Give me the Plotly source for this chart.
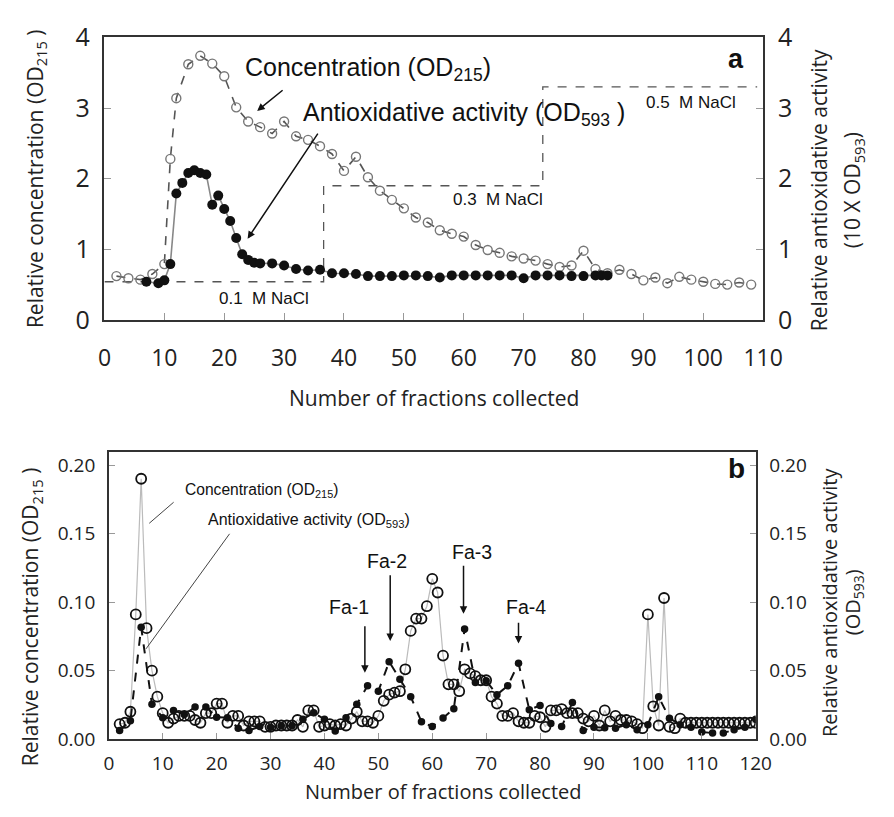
import plotly.graph_objects as go

# ---------------- Panel a data ----------------
conc_a_fraction = [2, 4, 6, 8, 10, 11, 12, 14, 16, 18, 20, 22, 24, 26, 28, 30, 32, 34, 36, 38, 40,
                   42, 44, 46, 48, 50, 52, 54, 56, 58, 60, 62, 64, 66, 68, 70, 72, 74, 76, 78, 80,
                   82, 84, 86, 88, 90, 92, 94, 96, 98, 100, 102, 104, 106, 108]
conc_a_value = [0.62, 0.59, 0.57, 0.65, 0.79, 2.28, 3.14, 3.62, 3.74, 3.63, 3.45, 3.01, 2.81, 2.73,
                2.64, 2.81, 2.60, 2.55, 2.46, 2.35, 2.11, 2.31, 2.02, 1.83, 1.70, 1.58, 1.45, 1.38,
                1.27, 1.22, 1.18, 1.06, 0.99, 0.95, 0.90, 0.87, 0.84, 0.79, 0.75, 0.77, 0.98, 0.72,
                0.66, 0.71, 0.65, 0.56, 0.60, 0.52, 0.61, 0.57, 0.54, 0.51, 0.50, 0.53, 0.50]

anti_a_fraction = [7, 9, 10, 11, 12, 13, 14, 15, 16, 17, 18, 19, 20, 21, 22, 23, 24, 25, 26, 28, 30,
                   32, 34, 36, 38, 40, 42, 44, 46, 48, 50, 52, 54, 56, 58, 60, 62, 64, 66, 68, 70,
                   72, 74, 76, 78, 80, 82, 83, 84]
anti_a_value = [0.54, 0.52, 0.56, 0.79, 1.79, 1.94, 2.08, 2.12, 2.08, 2.06, 1.63, 1.76, 1.57, 1.40,
                1.16, 0.93, 0.85, 0.81, 0.80, 0.80, 0.77, 0.72, 0.70, 0.71, 0.66, 0.66, 0.65, 0.62,
                0.62, 0.62, 0.63, 0.63, 0.62, 0.60, 0.63, 0.63, 0.63, 0.63, 0.63, 0.63, 0.59, 0.63,
                0.63, 0.63, 0.62, 0.62, 0.63, 0.63, 0.63]

nacl_step_fraction = [0, 36.6, 73.2, 109]
nacl_step_level = [0.54, 1.90, 3.30]
nacl_labels = ["0.1\u00a0\u00a0M NaCl", "0.3\u00a0\u00a0M NaCl", "0.5\u00a0\u00a0M NaCl"]

xticks_a = list(range(0, 111, 10))
yticks_a = [0, 1, 2, 3, 4]

# ---------------- Panel b data ----------------
conc_b_fraction = list(range(2, 121))
conc_b_value = [0.011, 0.012, 0.020, 0.091, 0.190, 0.081, 0.050, 0.031, 0.019, 0.012,   # 2-11
                0.015, 0.017, 0.017, 0.017, 0.014, 0.012, 0.019, 0.019, 0.026, 0.026,   # 12-21
                0.012, 0.017, 0.017, 0.010, 0.013, 0.013, 0.013, 0.009, 0.009, 0.010,   # 22-31
                0.010, 0.010, 0.010, 0.014, 0.009, 0.021, 0.021, 0.009, 0.010, 0.011,   # 32-41
                0.010, 0.011, 0.010, 0.015, 0.020, 0.013, 0.013, 0.012, 0.017, 0.028,   # 42-51
                0.0325, 0.034, 0.035, 0.051, 0.079, 0.088, 0.088, 0.097, 0.117, 0.107,  # 52-61
                0.061, 0.040, 0.040, 0.035, 0.051, 0.048, 0.046, 0.043, 0.043, 0.031,   # 62-71
                0.026, 0.017, 0.017, 0.019, 0.013, 0.012, 0.012, 0.017, 0.016, 0.009,   # 72-81
                0.021, 0.021, 0.022, 0.019, 0.019, 0.019, 0.015, 0.013, 0.017, 0.010,   # 82-91
                0.021, 0.013, 0.017, 0.014, 0.014, 0.013, 0.011, 0.008, 0.091, 0.024,   # 92-101
                0.010, 0.103, 0.009, 0.008, 0.015, 0.012, 0.012, 0.012, 0.012, 0.012,   # 102-111
                0.012, 0.012, 0.012, 0.012, 0.012, 0.012, 0.012, 0.012, 0.012]          # 112-120

anti_b_fraction = list(range(2, 121, 2))
anti_b_value = [0.0064, 0.0134, 0.0817, 0.0255, 0.0157, 0.0210, 0.0180, 0.0235, 0.0235, 0.0160,  # 2-20
                0.0157, 0.0080, 0.0064, 0.0092, 0.0087, 0.0098, 0.0098, 0.0145, 0.0192, 0.0146,  # 22-40
                0.0060, 0.0157, 0.0255, 0.0390, 0.0350, 0.0565, 0.0437, 0.0310, 0.0127, 0.0092,  # 42-60
                0.0155, 0.0222, 0.0803, 0.0414, 0.0426, 0.0325, 0.0390, 0.0554, 0.0215, 0.0246,  # 62-80
                0.0115, 0.0092, 0.0267, 0.0064, 0.0087, 0.0083, 0.0080, 0.0106, 0.0069, 0.0106,  # 82-100
                0.0309, 0.0153, 0.0106, 0.0087, 0.0052, 0.0045, 0.0045, 0.0069, 0.0087, 0.0146]  # 102-120

xticks_b = list(range(0, 121, 10))
yticks_b = [0.00, 0.05, 0.10, 0.15, 0.20]

fa_labels = ["Fa-1", "Fa-2", "Fa-3", "Fa-4"]

# ---------------- Geometry helpers ----------------
W, H = 894, 817


def px_x(p):
    return p / W


def px_y(p):
    return 1 - p / H


TICKFONT = "Open Sans"
ANNFONT = "Liberation Sans, Arial"
AXC = "#333333"

fig = go.Figure()

# Panel a traces
fig.add_trace(go.Scatter(x=nacl_step_fraction,
                         y=nacl_step_level + [nacl_step_level[-1]],
                         mode="lines", line=dict(color="#555555", width=1.3, dash="dash", shape="hv"),
                         xaxis="x", yaxis="y", hoverinfo="skip"))
fig.add_trace(go.Scatter(x=conc_a_fraction, y=conc_a_value, mode="lines+markers",
                         line=dict(color="#555555", width=1.6, dash="dash"),
                         marker=dict(symbol="circle-open", size=9, color="#777777", line=dict(width=1.4)),
                         xaxis="x", yaxis="y"))
fig.add_trace(go.Scatter(x=anti_a_fraction, y=anti_a_value, mode="lines+markers",
                         line=dict(color="#888888", width=1.6),
                         marker=dict(symbol="circle", size=10, color="#111111"),
                         xaxis="x", yaxis="y2"))

# Panel b traces
fig.add_trace(go.Scatter(x=conc_b_fraction, y=conc_b_value, mode="lines+markers",
                         line=dict(color="#bbbbbb", width=1.2),
                         marker=dict(symbol="circle-open", size=10, color="#111111", line=dict(width=1.8)),
                         xaxis="x2", yaxis="y3"))
fig.add_trace(go.Scatter(x=anti_b_fraction, y=anti_b_value, mode="lines+markers",
                         line=dict(color="#111111", width=2, dash="dash"),
                         marker=dict(symbol="circle", size=7.5, color="#111111"),
                         xaxis="x2", yaxis="y4"))

common_axis = dict(showline=True, linecolor=AXC, linewidth=1.5, ticks="inside",
                   tickcolor="#999999", tickwidth=1, showgrid=False, zeroline=False)

fig.update_layout(
    width=W, height=H, margin=dict(l=0, r=0, t=0, b=0), autosize=False,
    plot_bgcolor="white", paper_bgcolor="white", showlegend=False,
    xaxis=dict(domain=[px_x(100.5), px_x(779.7)], range=[0, 110], tickvals=xticks_a,
               ticklen=7, mirror=True, anchor="y", ticklabelstandoff=17,
               tickfont=dict(family=TICKFONT, size=23, color="#222222"), **common_axis),
    yaxis=dict(domain=[px_y(315), px_y(20.3)], range=[0, 4], tickvals=yticks_a, ticklen=7,
               mirror=True, anchor="x", ticklabelstandoff=8,
               tickfont=dict(family=TICKFONT, size=25, color="#222222"), **common_axis),
    yaxis2=dict(overlaying="y", side="right", range=[0, 4], tickvals=yticks_a, ticklen=7,
                anchor="x", ticklabelstandoff=8,
                tickfont=dict(family=TICKFONT, size=25, color="#222222"), **common_axis),
    xaxis2=dict(domain=[px_x(105), px_x(772)], range=[0, 120], tickvals=xticks_b, ticklen=6,
                mirror=True, anchor="y3", ticklabelstandoff=6,
                tickfont=dict(family=TICKFONT, size=19, color="#222222"), **common_axis),
    yaxis3=dict(domain=[px_y(752.5), px_y(453)], range=[0, 0.2094], tickvals=yticks_b,
                tickformat=".2f", ticklen=6, mirror=True, anchor="x2", ticklabelstandoff=8,
                tickfont=dict(family=TICKFONT, size=19, color="#222222"), **common_axis),
    yaxis4=dict(overlaying="y3", side="right", range=[0, 0.2094], tickvals=yticks_b,
                tickformat=".2f", ticklen=6, anchor="x2", ticklabelstandoff=8,
                tickfont=dict(family=TICKFONT, size=19, color="#222222"), **common_axis),
)

ann = []


def paper_text(text, x, y, size, angle=0, family=TICKFONT):
    ann.append(dict(text=text, x=px_x(x), y=px_y(y), xref="paper", yref="paper",
                    showarrow=False, textangle=angle, xanchor="center", yanchor="middle",
                    font=dict(family=family, size=size, color="#222222")))


# Axis titles
paper_text("Number of fractions collected", 440, 397, 21)
paper_text("Relative concentration (OD<sub>215</sub> )", 30, 168, 21, -90)
paper_text("Relative antioxidative activity", 837, 180, 21, -90)
paper_text("(10 X OD<sub>593</sub>)", 872, 180, 21, -90)
paper_text("Number of fractions collected", 450, 807, 20)
paper_text("Relative concentration (OD<sub>215</sub> )", 25, 625, 21, -90)
paper_text("Relative antioxidative activity", 848, 610, 20, -90)
paper_text("(OD<sub>593</sub>)", 873, 610, 20, -90)


def data_text(text, x, y, xr, yr, size, bold=False, xanchor="center"):
    ann.append(dict(text=("<b>%s</b>" % text) if bold else text, x=x, y=y, xref=xr, yref=yr,
                    showarrow=False, xanchor=xanchor, yanchor="middle",
                    font=dict(family=ANNFONT, size=size, color="#111111")))


def data_arrow(x0, y0, x1, y1, xr, yr, head=2, width=1.5, color="#111111"):
    ann.append(dict(text="", x=x1, y=y1, ax=x0, ay=y0, xref=xr, yref=yr, axref=xr, ayref=yr,
                    showarrow=True, arrowhead=head, arrowwidth=width, arrowsize=1,
                    arrowcolor=color, standoff=0, startstandoff=0))


# Panel a annotations
data_text("Concentration (OD<sub>215</sub>)", 23.1, 3.56, "x", "y", 25, xanchor="left")
data_arrow(30.0, 3.27, 25.5, 2.96, "x", "y")
data_text("Antioxidative activity (OD<sub>593</sub> )", 32.8, 2.92, "x", "y", 25, xanchor="left")
data_arrow(35.8, 2.66, 23.9, 1.15, "x", "y")
nacl_label_pos = [(26.6, 0.31), (65.7, 1.70), (97.9, 3.08)]
for lab, (lx, ly) in zip(nacl_labels, nacl_label_pos):
    data_text(lab, lx, ly, "x", "y", 17)
data_text("a", 105.5, 3.69, "x", "y", 27, bold=True)

# Panel b annotations
data_text("Concentration (OD<sub>215</sub>)", 28.4, 0.1817, "x2", "y3", 15.6)
data_arrow(12.3, 0.1738, 7.5, 0.1575, "x2", "y3", head=0, width=1, color="#444444")
data_text("Antioxidative activity (OD<sub>593</sub>)", 37.05, 0.1596, "x2", "y3", 16)
data_arrow(22.6, 0.1509, 6.9, 0.0659, "x2", "y3", head=0, width=1, color="#444444")
fa_text_pos = [(44.5, 0.0962), (51.6, 0.130), (67.4, 0.1365), (77.3, 0.0962)]
fa_arrows = [(47.5, 0.0834, 0.0484), (52.2, 0.1206, 0.0717), (65.8, 0.1276, 0.0915), (76.0, 0.0861, 0.0698)]
for lab, (tx, ty), (axx, y0, y1) in zip(fa_labels, fa_text_pos, fa_arrows):
    data_text(lab, tx, ty, "x2", "y3", 19.5)
    data_arrow(axx, y0, axx, y1, "x2", "y3", head=2, width=1.5)
data_text("b", 116.5, 0.1976, "x2", "y3", 28, bold=True)

fig.update_layout(annotations=ann)

fig.write_html("out.html", config={"displayModeBar": False},
               post_script="document.body.style.margin='0';")
